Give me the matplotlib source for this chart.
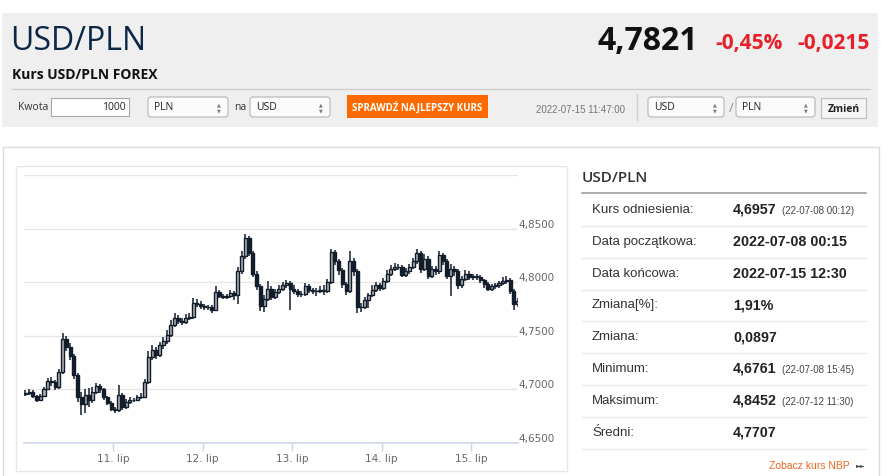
import matplotlib
matplotlib.use("Agg")
import matplotlib.pyplot as plt
from matplotlib.patches import Rectangle, FancyBboxPatch
import numpy as np

# hourly candles, 8 Jul 00:00 .. 15 Jul 12:00 (weekend left out)
close = [
    4.697, 4.698, 4.694, 4.690, 4.694, 4.700, 4.708, 4.707, 4.702, 4.716, 4.747, 4.740,
    4.731, 4.713, 4.693, 4.686, 4.695, 4.690, 4.698, 4.703, 4.700, 4.693, 4.687, 4.682,
    4.681, 4.695, 4.684, 4.688, 4.690, 4.690, 4.693, 4.693, 4.707, 4.730, 4.737, 4.732,
    4.741, 4.745, 4.751, 4.760, 4.767, 4.764, 4.763, 4.767, 4.768, 4.781, 4.780, 4.778,
    4.777, 4.777, 4.774, 4.791, 4.787, 4.786, 4.787, 4.790, 4.788, 4.810, 4.824, 4.841,
    4.827, 4.808, 4.796, 4.778, 4.784, 4.794, 4.786, 4.791, 4.794, 4.797, 4.799, 4.794,
    4.792, 4.789, 4.789, 4.796, 4.793, 4.792, 4.792, 4.793, 4.792, 4.800, 4.828, 4.820,
    4.811, 4.798, 4.792, 4.820, 4.810, 4.777, 4.777, 4.783, 4.788, 4.793, 4.797, 4.795,
    4.801, 4.808, 4.812, 4.814, 4.814, 4.807, 4.810, 4.814, 4.820, 4.827, 4.812, 4.822,
    4.806, 4.812, 4.810, 4.825, 4.820, 4.806, 4.812, 4.810, 4.797, 4.803, 4.808, 4.805,
    4.806, 4.805, 4.802, 4.798, 4.794, 4.796, 4.797, 4.799, 4.801, 4.802, 4.792, 4.780,
    4.7821,
]
high = [
    4.699, 4.700, 4.699, 4.695, 4.696, 4.702, 4.711, 4.712, 4.709, 4.719, 4.753, 4.750,
    4.743, 4.733, 4.715, 4.698, 4.700, 4.701, 4.702, 4.706, 4.705, 4.701, 4.694, 4.689,
    4.684, 4.704, 4.697, 4.691, 4.693, 4.692, 4.695, 4.697, 4.710, 4.736, 4.741, 4.740,
    4.744, 4.749, 4.755, 4.765, 4.771, 4.769, 4.767, 4.770, 4.771, 4.785, 4.784, 4.782,
    4.780, 4.779, 4.779, 4.796, 4.793, 4.789, 4.789, 4.793, 4.792, 4.814, 4.829, 4.8452,
    4.843, 4.829, 4.810, 4.798, 4.788, 4.801, 4.796, 4.794, 4.797, 4.800, 4.802, 4.801,
    4.797, 4.794, 4.792, 4.799, 4.798, 4.795, 4.795, 4.796, 4.797, 4.803, 4.831, 4.830,
    4.822, 4.813, 4.800, 4.829, 4.823, 4.812, 4.781, 4.786, 4.790, 4.797, 4.800, 4.799,
    4.804, 4.811, 4.816, 4.818, 4.817, 4.816, 4.813, 4.817, 4.823, 4.831, 4.829, 4.826,
    4.824, 4.815, 4.815, 4.829, 4.827, 4.822, 4.817, 4.815, 4.812, 4.806, 4.811, 4.810,
    4.808, 4.808, 4.807, 4.803, 4.800, 4.798, 4.799, 4.801, 4.805, 4.806, 4.804, 4.794,
    4.785,
]
low = [
    4.694, 4.695, 4.692, 4.688, 4.689, 4.693, 4.699, 4.703, 4.699, 4.700, 4.714, 4.736,
    4.727, 4.710, 4.688, 4.6761, 4.678, 4.684, 4.687, 4.696, 4.697, 4.690, 4.685, 4.680,
    4.678, 4.679, 4.681, 4.682, 4.686, 4.688, 4.689, 4.691, 4.692, 4.705, 4.727, 4.728,
    4.730, 4.738, 4.742, 4.749, 4.758, 4.761, 4.760, 4.761, 4.765, 4.766, 4.777, 4.775,
    4.774, 4.774, 4.771, 4.773, 4.785, 4.784, 4.784, 4.785, 4.783, 4.780, 4.808, 4.822,
    4.824, 4.805, 4.793, 4.773, 4.772, 4.782, 4.783, 4.784, 4.789, 4.792, 4.795, 4.774,
    4.789, 4.786, 4.786, 4.787, 4.790, 4.789, 4.787, 4.790, 4.788, 4.790, 4.798, 4.816,
    4.807, 4.795, 4.788, 4.790, 4.806, 4.771, 4.772, 4.775, 4.776, 4.786, 4.791, 4.792,
    4.793, 4.799, 4.806, 4.810, 4.811, 4.805, 4.805, 4.808, 4.812, 4.817, 4.809, 4.810,
    4.803, 4.804, 4.807, 4.808, 4.816, 4.803, 4.787, 4.806, 4.794, 4.795, 4.801, 4.802,
    4.802, 4.802, 4.799, 4.795, 4.792, 4.792, 4.794, 4.795, 4.797, 4.798, 4.789, 4.774,
    4.777,
]
first_open = 4.6957
open_ = [first_open] + close[:-1]

day_ticks = [24, 48, 72, 96, 120]
day_labels = ["11. lip", "12. lip", "13. lip", "14. lip", "15. lip"]
y_ticks = [4.65, 4.70, 4.75, 4.80, 4.85]
y_labels = ["4,6500", "4,7000", "4,7500", "4,8000", "4,8500"]

pair = "USD/PLN"
last_rate = "4,7821"
chg_pct = "-0,45%"
chg_abs = "-0,0215"
stamp = "2022-07-15 11:47:00"

row_labels = ["Kurs odniesienia:", "Data początkowa:", "Data końcowa:", "Zmiana[%]:",
              "Zmiana:", "Minimum:", "Maksimum:", "Średni:"]
row_values = ["4,6957", "2022-07-08 00:15", "2022-07-15 12:30", "1,91%",
              "0,0897", "4,6761", "4,8452", "4,7707"]
row_notes = ["(22-07-08 00:12)", "", "", "", "", "(22-07-08 15:45)", "(22-07-12 11:30)", ""]

OPEN = ["Open Sans", "DejaVu Sans"]
ARIAL = ["Liberation Sans", "DejaVu Sans"]
W, H = 890, 477

fig = plt.figure(figsize=(W / 100, H / 100), dpi=100)
fig.patch.set_facecolor("white")

# background layer in pixel units
bg = fig.add_axes([0, 0, 1, 1])
bg.set_xlim(0, W)
bg.set_ylim(H, 0)
bg.axis("off")

# header panel
bg.add_patch(Rectangle((2, 14), 876, 114, fc="#efefef", ec="none"))
bg.text(10, 41, pair, fontsize=23, color="#0d2747", family=OPEN, va="center")
bg.text(698, 41, last_rate, fontsize=23, weight="bold", color="#111111",
        family=OPEN, va="center", ha="right")
bg.text(715, 44, chg_pct, fontsize=15, weight="bold", color="#e8202a", family=OPEN, va="center")
bg.text(797, 44, chg_abs, fontsize=15, weight="bold", color="#e8202a", family=OPEN, va="center")
bg.text(12, 75, "Kurs USD/PLN FOREX", fontsize=10, weight="bold", color="#111111",
        family=OPEN, va="center")
bg.plot([12, 870], [90, 90], color="#cfcfcf", lw=1)


def select(x0, x1, label):
    bg.add_patch(FancyBboxPatch((x0, 98), x1 - x0, 20,
                                boxstyle="round,pad=0,rounding_size=3",
                                fc="#fbfbfb", ec="#b5b5b5", lw=0.8))
    bg.text(x0 + 6, 108, label, fontsize=7.5, color="#222222", family=OPEN, va="center")
    bg.text(x1 - 9, 105, "▲", fontsize=3.5, color="#777777", ha="center", va="center")
    bg.text(x1 - 9, 111, "▼", fontsize=3.5, color="#777777", ha="center", va="center")


bg.text(18, 108, "Kwota", fontsize=7.5, color="#333333", family=OPEN, va="center")
bg.add_patch(Rectangle((51, 99), 78, 18, fc="white", ec="#a8a8a8", lw=0.8))
bg.text(126, 108, "1000", fontsize=7.5, color="#222222", family=OPEN, va="center", ha="right")
select(148, 228, "PLN")
bg.text(234, 108, "na", fontsize=7.5, color="#333333", family=OPEN, va="center")
select(250, 330, "USD")
bg.add_patch(Rectangle((347, 96), 141, 23, fc="#ff6a00", ec="none"))
bg.text(417.5, 108, "SPRAWDŹ NAJLEPSZY KURS", fontsize=7.0, weight="bold", color="white",
        family=OPEN, va="center", ha="center")
bg.text(536, 110, stamp, fontsize=7.0, color="#777777", family=ARIAL, va="center")
bg.plot([637, 637], [95, 121], color="#d0d0d0", lw=1)
select(648, 724, "USD")
bg.text(729, 109, "/", fontsize=9, color="#888888", family=OPEN, va="center")
select(736, 815, "PLN")
bg.add_patch(Rectangle((821, 99), 45, 20, fc="#f4f4f4", ec="#bdbdbd", lw=0.8))
bg.text(843.5, 109, "Zmień", fontsize=7.5, weight="bold", color="#222222",
        family=OPEN, va="center", ha="center")

# main panel and chart frame
bg.add_patch(Rectangle((3, 148), 876, 340, fc="white", ec="#dcdcdc", lw=1))
bg.add_patch(Rectangle((16, 167), 551, 305, fc="white", ec="#e6e6e6", lw=1))

# right-hand table
bg.text(582, 178, pair, fontsize=11, weight="semibold", color="#333333",
        family=OPEN, va="center")
bg.plot([582, 866], [194, 194], color="#a0a0a0", lw=1.2)
for i, (lab, val, note) in enumerate(zip(row_labels, row_values, row_notes)):
    yc = 210 + i * 31.8
    bg.text(592, yc, lab, fontsize=9.5, color="#333333", family=ARIAL, va="center")
    bg.text(733, yc, val, fontsize=10.3, weight="bold", color="#222222", family=ARIAL, va="center")
    if note:
        bg.text(782, yc + 1, note, fontsize=7, color="#444444", family=ARIAL, va="center")
    bg.plot([582, 866], [yc + 17, yc + 17], color="#e8e8e8", lw=1)
bg.text(769, 466, "Zobacz kurs NBP", fontsize=7.5, color="#f26522", family=ARIAL, va="center")
bg.text(856, 466, "►►", fontsize=4.5, color="#444444", va="center", family=["DejaVu Sans"])

# candlestick chart
x_px0, x_px1 = 23.5, 518
y_px0, y_px1 = 176, 444
ax = fig.add_axes([x_px0 / W, 1 - y_px1 / H, (x_px1 - x_px0) / W, (y_px1 - y_px0) / H])
ax.set_facecolor("none")
ax.set_xlim(0, 132.6)
ax.set_ylim(4.65, 4.90)

o = np.array(open_)
c = np.array(close)
hi = np.array(high)
lo = np.array(low)
xs = np.arange(len(c)) + 0.5
up = c >= o

dark = "#111d2b"
ax.vlines(xs, lo, hi, color=dark, lw=1.1, zorder=2)
ax.bar(xs[up], (c - o)[up], bottom=o[up], width=0.82, color="#b0b0b0",
       edgecolor=dark, lw=1.0, zorder=3)
ax.bar(xs[~up], (o - c)[~up], bottom=c[~up], width=0.82, color=dark,
       edgecolor=dark, lw=1.0, zorder=3)

for yv in [4.70, 4.75, 4.80, 4.85, 4.90]:
    ax.axhline(yv, color="#e6e6e6", lw=1, zorder=0)
ax.axhline(4.65, color="#ccd6eb", lw=1.2, zorder=1, clip_on=False)

for s in ax.spines.values():
    s.set_visible(False)
ax.set_xticks(day_ticks)
ax.set_xticklabels(day_labels, fontsize=7.5, color="#666666")
ax.tick_params(axis="x", length=6, color="#ccd6eb", width=1, pad=1)
ax.set_yticks([])
for yv, lab in zip(y_ticks, y_labels):
    ax.text(1.0, yv, lab, transform=ax.get_yaxis_transform(), fontsize=7.5,
            color="#666666", ha="left", va="bottom")

fig.savefig("out.png", dpi=100)
